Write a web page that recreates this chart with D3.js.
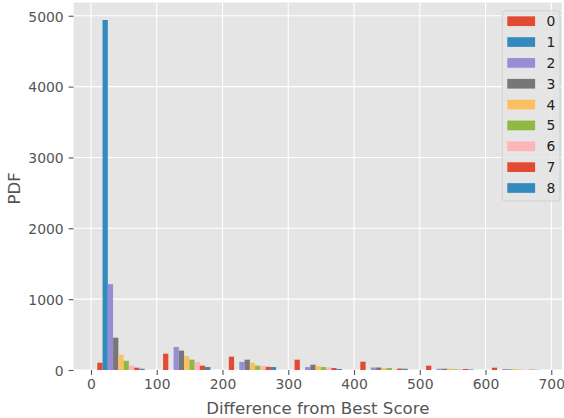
<!DOCTYPE html>
<html>
<head>
<meta charset="utf-8">
<script src="https://cdn.jsdelivr.net/npm/d3@7"></script>
<style>
  html, body { margin: 0; padding: 0; background: #ffffff; }
  svg { display: block; font-family: "DejaVu Sans", sans-serif; }
</style>
</head>
<body>
<svg id="chart" width="564" height="418"></svg>
<script>
// ---- Data ----
const binEdges = [0, 100, 200, 300, 400, 500, 600, 700];
const seriesNames = ["0", "1", "2", "3", "4", "5", "6", "7", "8"];
const s0 = [103, 230, 188, 146, 117, 61, 33];
const s1 = [4940, 0, 0, 0, 0, 0, 0];
const s2 = [1212, 325, 115, 42, 35, 18, 14];
const s3 = [456, 273, 146, 75, 35, 18, 8];
const s4 = [214, 198, 101, 56, 28, 18, 14];
const s5 = [129, 146, 61, 42, 28, 10, 5];
const s6 = [61, 113, 58, 38, 8, 14, 5];
const s7 = [33, 61, 45, 28, 20, 14, 5];
const s8 = [18, 42, 42, 14, 18, 8, 3];
const xTicks = [0, 100, 200, 300, 400, 500, 600, 700];
const yTicks = [0, 1000, 2000, 3000, 4000, 5000];
const colors = ["#E24A33", "#348ABD", "#988ED5", "#777777", "#FBC15E",
                "#8EBA42", "#FFB5B8", "#E24A33", "#348ABD"];

const allSeries = [s0, s1, s2, s3, s4, s5, s6, s7, s8];

// ---- Layout ----
const plot = { left: 73.5, right: 562, top: 2.5, bottom: 370 };
const svg = d3.select("#chart");

const x = d3.scaleLinear().domain([-26.6, 716.3]).range([plot.left, plot.right]);
const y = d3.scaleLinear().domain([0, 5187]).range([plot.bottom, plot.top]);

// background
svg.append("rect")
  .attr("x", plot.left).attr("y", plot.top)
  .attr("width", plot.right - plot.left).attr("height", plot.bottom - plot.top)
  .attr("fill", "#E5E5E5");

// grid
const grid = svg.append("g");
grid.selectAll("line.gx").data(xTicks).join("line")
  .attr("x1", d => x(d)).attr("x2", d => x(d))
  .attr("y1", plot.top).attr("y2", plot.bottom)
  .attr("stroke", "#ffffff").attr("stroke-width", 1.1);
grid.selectAll("line.gy").data(yTicks).join("line")
  .attr("x1", plot.left).attr("x2", plot.right)
  .attr("y1", d => y(d)).attr("y2", d => y(d))
  .attr("stroke", "#ffffff").attr("stroke-width", 1.1);

// bars: within each bin, 9 bars spanning ~72% of the bin
const groupOffset = 9.6, barW = 8.0;
const bars = [];
allSeries.forEach((vals, si) => {
  vals.forEach((v, bi) => {
    bars.push({ si, x0: binEdges[bi] + groupOffset + si * barW, v });
  });
});
svg.append("g").selectAll("rect").data(bars.filter(d => d.v > 0)).join("rect")
  .attr("x", d => x(d.x0))
  .attr("width", d => x(d.x0 + barW) - x(d.x0))
  .attr("y", d => y(d.v))
  .attr("height", d => y(0) - y(d.v))
  .attr("fill", d => colors[d.si]);

// axes
const xAxis = d3.axisBottom(x).tickValues(xTicks).tickSize(4.9).tickPadding(4.5).tickFormat(d3.format("d"));
const gx = svg.append("g").attr("transform", `translate(0,${plot.bottom})`).call(xAxis);
gx.select(".domain").remove();
gx.selectAll(".tick line").attr("stroke", "#555555").attr("stroke-width", 1.1);
gx.selectAll(".tick text").attr("fill", "#555555").style("font-size", "13.9px")
  .style("font-family", "DejaVu Sans");

const yAxis = d3.axisLeft(y).tickValues(yTicks).tickSize(4.9).tickPadding(4.9).tickFormat(d3.format("d"));
const gy = svg.append("g").attr("transform", `translate(${plot.left},0)`).call(yAxis);
gy.select(".domain").remove();
gy.selectAll(".tick line").attr("stroke", "#555555").attr("stroke-width", 1.1);
gy.selectAll(".tick text").attr("fill", "#555555").style("font-size", "13.9px")
  .style("font-family", "DejaVu Sans").attr("dy", "0.38em");

// axis labels
svg.append("text")
  .attr("x", (plot.left + plot.right) / 2).attr("y", 414)
  .attr("text-anchor", "middle").attr("fill", "#555555")
  .style("font-size", "16.6px").text("Difference from Best Score");
svg.append("text")
  .attr("transform", `translate(20,${(plot.top + plot.bottom) / 2 + 2}) rotate(-90)`)
  .attr("text-anchor", "middle").attr("fill", "#555555")
  .style("font-size", "16.6px").text("PDF");

// legend
const lg = svg.append("g");
lg.append("rect")
  .attr("x", 502.3).attr("y", 10.7).attr("width", 57.7).attr("height", 190.3)
  .attr("rx", 2.8)
  .attr("fill", "#E5E5E5").attr("fill-opacity", 0.8)
  .attr("stroke", "#CCCCCC").attr("stroke-opacity", 0.8).attr("stroke-width", 1);
const rowH = 20.85, row0 = 21.2;
const items = lg.selectAll("g.item").data(seriesNames).join("g")
  .attr("transform", (d, i) => `translate(0,${row0 + i * rowH})`);
items.append("rect")
  .attr("x", 507.3).attr("y", -4.85).attr("width", 27.8).attr("height", 9.7)
  .attr("fill", (d, i) => colors[i]);
items.append("text")
  .attr("x", 546.4).attr("y", 0).attr("dy", "0.36em")
  .attr("fill", "#222222").style("font-size", "13.9px").text(d => d);
</script>
</body>
</html>
